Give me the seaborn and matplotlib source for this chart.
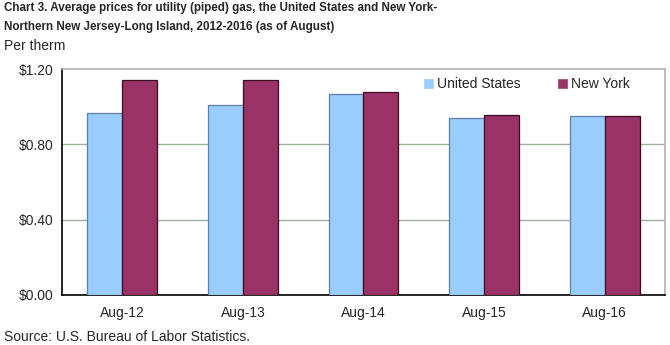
import matplotlib
matplotlib.use("Agg")
import matplotlib.pyplot as plt
import seaborn as sns
import pandas as pd

categories = ["Aug-12", "Aug-13", "Aug-14", "Aug-15", "Aug-16"]
us_values = [0.965, 1.008, 1.066, 0.938, 0.948]
ny_values = [1.142, 1.142, 1.076, 0.955, 0.948]
series_names = ["United States", "New York"]
yticks = [0.0, 0.4, 0.8, 1.2]
ytick_labels = ["$0.00", "$0.40", "$0.80", "$1.20"]

df = pd.DataFrame({
    "period": categories * 2,
    "series": [series_names[0]] * len(categories) + [series_names[1]] * len(categories),
    "price": us_values + ny_values,
})

sns.set_style("white")
plt.rcParams["font.family"] = ["Liberation Sans", "DejaVu Sans"]

fig = plt.figure(figsize=(6.7, 3.45), dpi=100)
ax = fig.add_axes([0.0925, 0.145, 0.9, 0.655])

palette = {"United States": "#99ccff", "New York": "#993366"}
sns.barplot(data=df, x="period", y="price", hue="series", palette=palette,
            width=0.58, saturation=1, ax=ax, zorder=3)

edge = {"United States": "#5f7fa8", "New York": "#3d0a22"}
for cont, name in zip(ax.containers, series_names):
    for bar in cont:
        bar.set_edgecolor(edge[name])
        bar.set_linewidth(0.9)

ax.set_ylim(0, 1.2)
ax.set_xlim(-0.5, 4.5)
ax.set_yticks(yticks)
ax.set_yticklabels(ytick_labels, fontsize=10)
ax.tick_params(axis="x", labelsize=10, length=0, pad=8)
ax.tick_params(axis="y", length=0, pad=6)
ax.set_xlabel("")
ax.set_ylabel("")
for y in [0.4, 0.8]:
    ax.axhline(y, color="#9fb09f", lw=1.0, zorder=1)

for side in ["left", "bottom"]:
    ax.spines[side].set_color("black")
    ax.spines[side].set_linewidth(1.2)
for side in ["top", "right"]:
    ax.spines[side].set_color("#b0b0b0")
    ax.spines[side].set_linewidth(1.2)

leg = ax.legend(loc="upper right", ncol=2, frameon=False, fontsize=10,
                handlelength=0.8, handleheight=0.8, handletextpad=0.2,
                columnspacing=2.6, bbox_to_anchor=(0.955, 1.0), borderaxespad=0.2)

fig.text(0.006, 0.977, "Chart 3. Average prices for utility (piped) gas, the United States and New York-",
         fontsize=8.4, fontweight="bold", va="center")
fig.text(0.006, 0.922, "Northern New Jersey-Long Island, 2012-2016 (as of August)",
         fontsize=8.4, fontweight="bold", va="center")
fig.text(0.006, 0.866, "Per therm", fontsize=10, va="center")
fig.text(0.006, 0.023, "Source: U.S. Bureau of Labor Statistics.", fontsize=10, va="center")

fig.savefig("out.png", dpi=100)
